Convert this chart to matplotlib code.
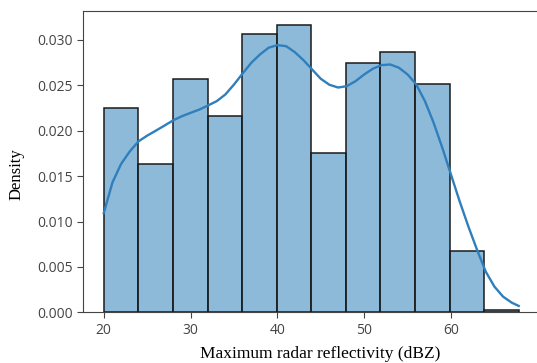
import matplotlib
matplotlib.use("Agg")
from matplotlib import pyplot as plt

# histogram bins (12 bins over the data range) and density heights
bin_edges = [20.0, 23.98, 27.97, 31.95, 35.93, 39.92, 43.9, 47.88, 51.87, 55.85, 59.83, 63.82, 67.8]
densities = [0.02245, 0.01637, 0.02565, 0.02167, 0.03069, 0.03161,
             0.01755, 0.02749, 0.0287, 0.02517, 0.00677, 0.00025]

# kde curve
kde_x = [20, 21, 22, 23, 24, 25, 26, 27, 28, 29, 30, 31, 32, 33, 34, 35, 36, 37, 38, 39,
         40, 41, 42, 43, 44, 45, 46, 47, 48, 49, 50, 51, 52, 53, 54, 55, 56, 57, 58, 59,
         60, 61, 62, 63, 64, 65, 66, 67, 67.8]
kde_y = [0.01093, 0.0143, 0.01635, 0.01773, 0.01883, 0.01946, 0.02001, 0.02057, 0.02115, 0.0216,
         0.02197, 0.02233, 0.02278, 0.02325, 0.02399, 0.02509, 0.02631, 0.02749, 0.02841, 0.02915,
         0.02943, 0.02932, 0.02866, 0.02778, 0.02675, 0.02572, 0.02506, 0.02476, 0.02491, 0.02546,
         0.0262, 0.02683, 0.02723, 0.0273, 0.02694, 0.0262, 0.02509, 0.02325, 0.02087, 0.01811,
         0.01516, 0.01221, 0.00945, 0.00688, 0.00448, 0.00283, 0.00172, 0.00106, 0.0007]

x_ticks = [20, 30, 40, 50, 60]
y_ticks = [0.000, 0.005, 0.010, 0.015, 0.020, 0.025, 0.030]

fig = plt.figure(figsize=(5.37, 3.63), dpi=100)
ax = fig.add_axes([0.1546, 0.1397, 0.850, 0.830])

lefts = bin_edges[:-1]
widths = [b - a for a, b in zip(bin_edges[:-1], bin_edges[1:])]
ax.bar(lefts, densities, width=widths, align='edge',
       facecolor=(0.1216, 0.4667, 0.7059, 0.5), edgecolor='#1a1a1a', linewidth=1.1)

ax.plot(kde_x, kde_y, color='#2f7fbc', linewidth=1.7)

margin = (bin_edges[-1] - bin_edges[0]) * 0.05
ax.set_xlim(bin_edges[0] - margin, bin_edges[-1] + margin)
ax.set_ylim(0, max(densities) * 1.05)

ax.set_xticks(x_ticks)
ax.set_yticks(y_ticks)
ax.set_yticklabels(['%.3f' % v for v in y_ticks])
ax.tick_params(labelsize=10, colors='#444444', length=4)
for lab in ax.get_xticklabels() + ax.get_yticklabels():
    lab.set_fontfamily('Open Sans')

for sp in ax.spines.values():
    sp.set_color('#444444')

ax.set_xlabel('Maximum radar reflectivity (dBZ)', family='Liberation Serif', fontsize=12.5)
ax.set_ylabel('Density', family='Liberation Serif', fontsize=12)
ax.xaxis.set_label_coords(0.52, -0.113)
ax.yaxis.set_label_coords(-0.128, 0.46)

fig.savefig('out.png', dpi=100)
